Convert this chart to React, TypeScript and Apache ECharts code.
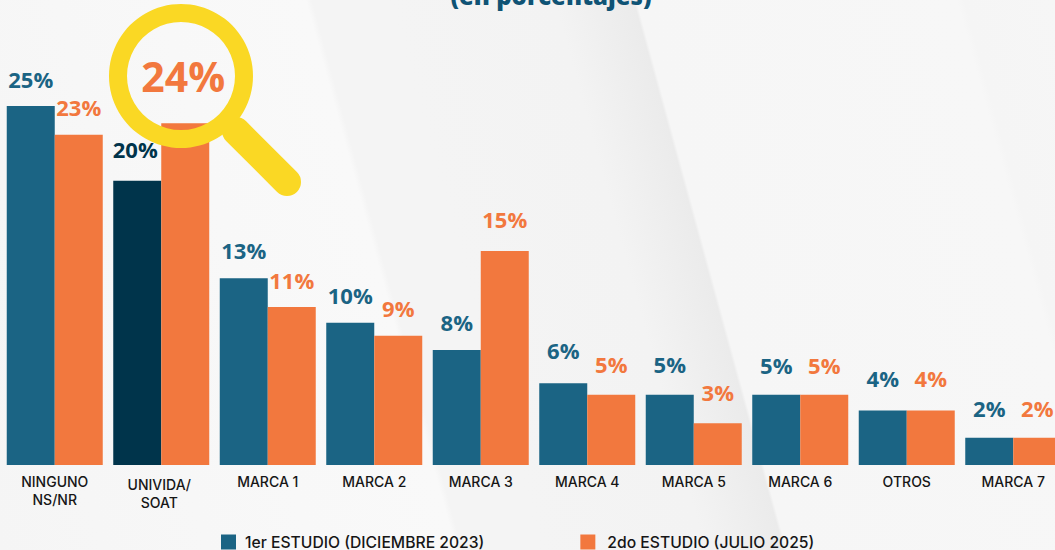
import React, { useEffect, useRef } from "react";
import * as echarts from "echarts";

const categories = ["NINGUNO\nNS/NR", "UNIVIDA/\nSOAT", "MARCA 1", "MARCA 2", "MARCA 3", "MARCA 4", "MARCA 5", "MARCA 6", "OTROS", "MARCA 7"];
const estudio1 = [25, 19.8, 13, 9.9, 8, 5.7, 4.9, 4.9, 3.8, 1.9];
const estudio2 = [23, 23.8, 11, 9, 14.9, 4.9, 2.9, 4.9, 3.8, 1.9];
const seriesNames = ["1er ESTUDIO (DICIEMBRE 2023)", "2do ESTUDIO (JULIO 2025)"];
const titleText = "(en porcentajes)";

// Extra label lift per bar, a styling detail of the reference's hand-placed labels.
const labelLift1 = [0, 5, 1, 1, 1, 6, 4, 3, 5, 3];
const labelLift2 = [1, 0, 0, 1, 5, 4, 4, 3, 5, 3];

const BLUE = "#1b6484";
const DARK = "#00344b";
const ORANGE = "#f2783e";
const YELLOW = "#fad824";
const LABEL_FONT = "'Open Sans', sans-serif";
const AXIS_FONT = "Inter, sans-serif";
const pct = (p: any) => `${Math.round(p.value)}%`;

export default function App() {
  const ref = useRef<HTMLDivElement>(null);
  useEffect(() => {
    document.body.style.margin = "0";
    const chart = echarts.init(ref.current!, null, { renderer: "svg" });
    chart.setOption({
      animation: false,
      backgroundColor: "transparent",
      title: {
        text: titleText,
        left: 546,
        top: -22,
        textAlign: "center",
        textStyle: { fontFamily: LABEL_FONT, fontSize: 24, fontWeight: 800, color: "#0f5375" },
      },
      legend: {
        left: 221,
        top: 534,
        padding: 0,
        itemWidth: 15,
        itemHeight: 15,
        itemGap: 96,
        icon: "rect",
        selectedMode: false,
        textStyle: { fontFamily: AXIS_FONT, fontSize: 15.7, fontWeight: 500, color: "#161616", padding: [0, 0, 0, 4] },
        data: [
          { name: seriesNames[0] },
          { name: seriesNames[1], textStyle: { padding: [0, 0, 0, 7] } },
        ],
      },
      grid: { left: 1.5, top: 0, width: 1065, height: 465, containLabel: false, outerBoundsMode: "none" },
      xAxis: {
        type: "category",
        data: categories.map((c, i) =>
          i === 1 ? { value: c, textStyle: { padding: [3, 4, 0, 0] } } : c
        ),
        axisLine: { show: false },
        axisTick: { show: false },
        axisLabel: {
          interval: 0,
          margin: 7,
          fontFamily: AXIS_FONT,
          fontSize: 14,
          fontWeight: 500,
          lineHeight: 18,
          color: "#161616",
        },
      },
      yAxis: { type: "value", min: 0, max: 32.38, show: false },
      series: [
        {
          name: seriesNames[0],
          type: "bar",
          barWidth: 48,
          barGap: 0,
          itemStyle: { color: BLUE },
          label: {
            show: true,
            position: "top",
            distance: 16,
            formatter: pct,
            fontFamily: LABEL_FONT,
            fontSize: 22,
            fontWeight: 700,
            color: BLUE,
          },
          data: estudio1.map((v, i) =>
            i === 1
              ? { value: v, itemStyle: { color: DARK }, label: { color: DARK, offset: [-2, -labelLift1[i]] } }
              : { value: v, label: { offset: [0, -labelLift1[i]] } }
          ),
        },
        {
          name: seriesNames[1],
          type: "bar",
          barWidth: 48,
          itemStyle: { color: ORANGE },
          label: {
            show: true,
            position: "top",
            distance: 16,
            formatter: pct,
            fontFamily: LABEL_FONT,
            fontSize: 22,
            fontWeight: 700,
            color: ORANGE,
          },
          data: estudio2.map((v, i) =>
            i === 1
              ? { value: v, label: { fontSize: 41, offset: [-2, -11] } }
              : { value: v, label: { offset: [0, -labelLift2[i]] } }
          ),
        },
      ],
      graphic: [
        {
          type: "group",
          z: 100,
          silent: true,
          children: [
            {
              type: "line",
              z: 100,
              shape: { x1: 236, y1: 131, x2: 287, y2: 182 },
              style: { stroke: YELLOW, lineWidth: 28, lineCap: "round" },
            },
            {
              type: "ring",
              z: 101,
              shape: { cx: 181, cy: 76, r: 72, r0: 54 },
              style: { fill: YELLOW },
            },
          ],
        },
      ],
    });
    return () => chart.dispose();
  }, []);
  return (
    <div
      ref={ref}
      style={{
        width: 1055,
        height: 550,
        background:
          "linear-gradient(74.7deg, #f5f5f5 0px, #f8f8f8 300px, #f9f9f9 440px, #f4f4f4 446px, #f4f4f4 520px, #f3f3f3 680px, #ebebeb 756px, #f6f6f6 759px, #f7f7f7 1068px, #f5f5f5 1075px, #f6f6f6 1163px)",
      }}
    />
  );
}
